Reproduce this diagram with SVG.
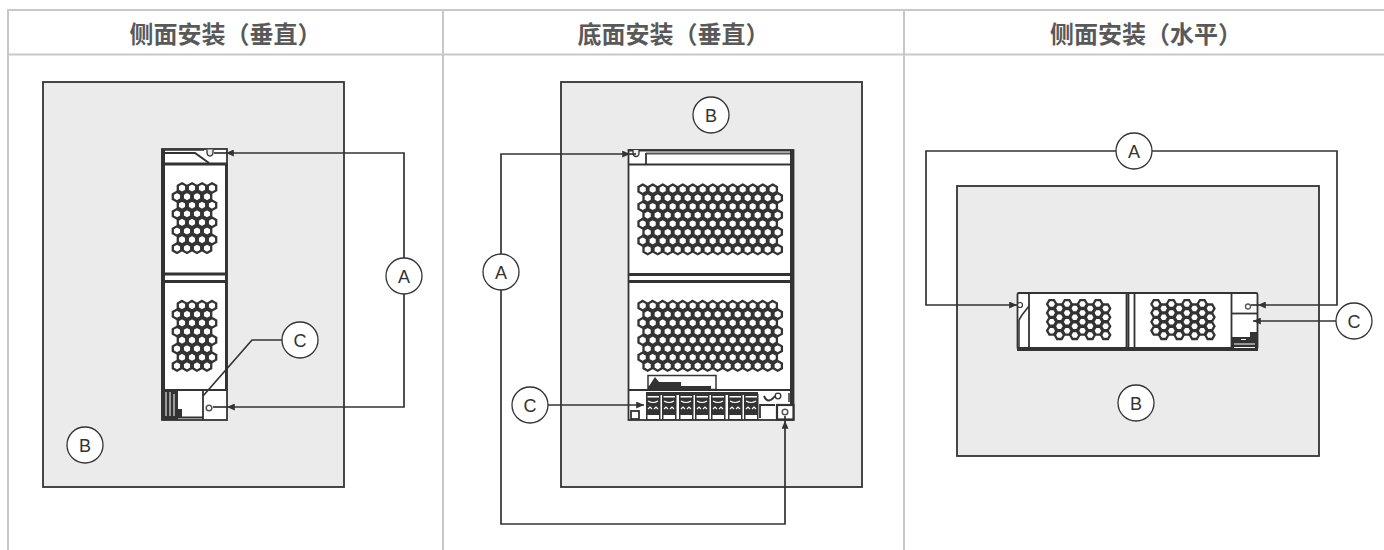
<svg xmlns="http://www.w3.org/2000/svg" width="1384" height="550" viewBox="0 0 1384 550">
<style>
.grid{stroke:#c8c8c8;stroke-width:2;fill:none}
.hd{font-family:"Noto Sans CJK SC","Noto Sans",sans-serif;font-size:24px;font-weight:700;fill:#595959;text-anchor:middle}
.panel{fill:#ebebeb;stroke:#333;stroke-width:1.8}
.wire{fill:none;stroke:#333;stroke-width:1.7}
.lab circle{fill:#fff;stroke:#333;stroke-width:1.3}
.lab text{font-family:"Liberation Sans",Arial,sans-serif;font-size:18px;fill:#333;text-anchor:middle}
.body{fill:#fff;stroke:#333;stroke-width:1.8}
.dk{fill:#333}
.ln{fill:none;stroke:#333;stroke-width:1.5}
.hx{fill:#fff;stroke:#333;stroke-width:2.3}
</style>
<defs>
<marker id="ah" viewBox="0 0 8 7" refX="7.8" refY="3.5" markerWidth="8" markerHeight="7" orient="auto" markerUnits="userSpaceOnUse"><path d="M0 0L8 3.500L0 7Z" fill="#333"/></marker>
<polygon id="h" class="hx" points="0,-4.8 4.2,-2.4 4.2,2.4 0,4.8 -4.2,2.4 -4.2,-2.4"/>
<g id="r4"><use href="#h" x="0"/><use href="#h" x="10"/><use href="#h" x="20"/><use href="#h" x="30"/></g>
<g id="b1"><use href="#r4" x="5" y="0"/><use href="#r4" x="0" y="8.6"/><use href="#r4" x="5" y="17.2"/><use href="#r4" x="0" y="25.8"/><use href="#r4" x="5" y="34.4"/><use href="#r4" x="0" y="43"/><use href="#r4" x="5" y="51.6"/><use href="#r4" x="0" y="60.2"/></g>
<g id="r14"><use href="#r4" x="0"/><use href="#r4" x="40"/><use href="#r4" x="80"/><use href="#h" x="120"/><use href="#h" x="130"/></g>
<g id="b2"><use href="#r14" x="0" y="0"/><use href="#r14" x="5" y="8.6"/><use href="#r14" x="0" y="17.2"/><use href="#r14" x="5" y="25.8"/><use href="#r14" x="0" y="34.4"/><use href="#r14" x="5" y="43"/><use href="#r14" x="0" y="51.6"/><use href="#r14" x="5" y="60.2"/></g>
<polygon id="f" class="hx" points="-4.6,0 -2.3,-3.9 2.3,-3.9 4.6,0 2.3,3.9 -2.3,3.9"/>
<g id="b3">
<use href="#f" x="0" y="0"/><use href="#f" x="0" y="8.9"/><use href="#f" x="0" y="17.8"/><use href="#f" x="0" y="26.7"/>
<use href="#f" x="7.7" y="4.4"/><use href="#f" x="7.7" y="13.3"/><use href="#f" x="7.7" y="22.2"/><use href="#f" x="7.7" y="31.1"/>
<use href="#f" x="15.4" y="0"/><use href="#f" x="15.4" y="8.9"/><use href="#f" x="15.4" y="17.8"/><use href="#f" x="15.4" y="26.7"/>
<use href="#f" x="23.1" y="4.4"/><use href="#f" x="23.1" y="13.3"/><use href="#f" x="23.1" y="22.2"/><use href="#f" x="23.1" y="31.1"/>
<use href="#f" x="30.8" y="0"/><use href="#f" x="30.8" y="8.9"/><use href="#f" x="30.8" y="17.8"/><use href="#f" x="30.8" y="26.7"/>
<use href="#f" x="38.5" y="4.4"/><use href="#f" x="38.5" y="13.3"/><use href="#f" x="38.5" y="22.2"/><use href="#f" x="38.5" y="31.1"/>
<use href="#f" x="46.2" y="0"/><use href="#f" x="46.2" y="8.9"/><use href="#f" x="46.2" y="17.8"/><use href="#f" x="46.2" y="26.7"/>
<use href="#f" x="53.9" y="4.4"/><use href="#f" x="53.9" y="13.3"/><use href="#f" x="53.9" y="22.2"/><use href="#f" x="53.9" y="31.1"/>
</g>
<g id="term"><rect x="0" y="0" width="14.500" height="26" fill="#333"/><rect x="1.500" y="2" width="11.500" height="1.500" fill="#fff"/><path d="M2 7q5 3 10 0M2 15l2-2 2 2M8 15l2-2 2 2" fill="none" stroke="#fff" stroke-width="1.100"/><rect x="1.500" y="21" width="11.500" height="4" fill="#fff"/></g>
</defs>
<g id="table">
<path class="grid" d="M8 550V10H1384M8 54.500H1384M443 10V550M904 10V550"/>
<text class="hd" x="225.500" y="43">侧面安装（垂直）</text>
<text class="hd" x="673.500" y="43">底面安装（垂直）</text>
<text class="hd" x="1146" y="43">侧面安装（水平）</text>
</g>
<g id="panels">
<rect id="panel-1" class="panel" x="43" y="82" width="301" height="405"/>
<rect id="panel-2" class="panel" x="561" y="82" width="301" height="405"/>
<rect id="panel-3" class="panel" x="957" y="186" width="362" height="270"/>
</g>
<g id="device-1">
<rect class="body" x="162" y="149" width="65" height="271"/>
<rect class="dk" x="161" y="149" width="4" height="271"/>
<rect class="dk" x="225" y="164" width="2.500" height="226"/>
<path d="M165 153H195L209 163" fill="none" stroke="#333" stroke-width="2"/>
<path d="M165 150H204" stroke="#333" stroke-width="1.500"/>
<path fill="#ebebeb" stroke="#333" stroke-width="1.300" d="M207 149.500V152Q207 156 210 156Q213 156 213 152V149.500"/>
<path d="M162 164H227" stroke="#333" stroke-width="3"/>
<path d="M162 274H227M162 281.500H227" stroke="#333" stroke-width="3"/>
<path d="M162 390H227" stroke="#333" stroke-width="1.800"/>
<use href="#b1" x="177" y="188"/>
<use href="#b1" x="177" y="305.700"/>
<rect class="dk" x="162" y="390" width="16" height="30"/>
<path d="M166 392V416M170 392V416M174 394V416" stroke="#fff" stroke-width="1"/>
<rect x="178" y="391" width="24" height="24" fill="#fff"/>
<path d="M178 417.500H203M203 390V420" stroke="#333" stroke-width="1.800"/>
<rect x="178" y="409" width="4" height="8" fill="#333"/>
<circle cx="209" cy="408" r="2.800" fill="#fff" stroke="#555" stroke-width="1.500"/>
</g>
<g id="device-2">
<rect class="body" x="628.500" y="150" width="165" height="270"/>
<rect class="dk" x="790" y="150" width="4" height="270"/>
<path d="M628 150.500H793" stroke="#333" stroke-width="1.800"/>
<path d="M646 153.500H790" stroke="#555" stroke-width="2.200"/>
<path d="M646 153V164" stroke="#333" stroke-width="1.800"/>
<path fill="#ebebeb" stroke="#333" stroke-width="1.300" d="M633 150V153Q633 156.500 636 156.500Q639 156.500 639 153V150"/>
<path d="M628 164.500H793" stroke="#333" stroke-width="2.200"/>
<path d="M629 274.500H792M629 281.500H792" stroke="#333" stroke-width="3"/>
<path d="M628 390H793" stroke="#333" stroke-width="1.800"/>
<use href="#b2" x="642.700" y="189.300"/>
<use href="#b2" x="642.700" y="305.700"/>
<rect x="648" y="375.500" width="68" height="14" fill="#fff" stroke="#333" stroke-width="1.500"/>
<path d="M649 389V386L655 377L659 382H681V389Z" fill="#333"/>
<rect x="648" y="386" width="63" height="3.500" fill="#333"/>
<rect x="646" y="392" width="112" height="3" fill="#333"/>
<use href="#term" x="646" y="394"/><use href="#term" x="662" y="394"/><use href="#term" x="679" y="394"/><use href="#term" x="695" y="394"/><use href="#term" x="711" y="394"/><use href="#term" x="728" y="394"/><use href="#term" x="744" y="394"/>
<rect x="631" y="411" width="8" height="8" fill="#fff" stroke="#333" stroke-width="1.800"/>
<path d="M760 418V405H775" stroke="#333" stroke-width="1.800" fill="none"/>
<path d="M764 396Q768 405 775 396" fill="none" stroke="#333" stroke-width="2"/>
<circle cx="778" cy="396" r="2.800" fill="none" stroke="#333" stroke-width="1.300"/>
<rect x="777" y="405" width="16.500" height="14.500" fill="#fff" stroke="#333" stroke-width="2.200"/>
<circle cx="785" cy="412" r="2.800" fill="#fff" stroke="#555" stroke-width="1.500"/>
<path d="M789 393V402" stroke="#333" stroke-width="1.500"/>
</g>
<g id="device-3">
<rect class="body" x="1017.500" y="293" width="240" height="56" rx="1.500"/>
<rect class="dk" x="1017" y="347" width="241" height="4"/>
<path d="M1029 293V349M1126.500 293V349M1128.500 293V349M1134.500 293V349M1231.500 293V349" stroke="#333" stroke-width="1.800"/>
<path d="M1019 320L1022 315L1029 306" fill="none" stroke="#333" stroke-width="1.500"/>
<path d="M1019 320V349" stroke="#333" stroke-width="1.500"/>
<circle cx="1020" cy="305" r="2.500" fill="#fff" stroke="#333" stroke-width="1.200"/>
<use href="#b3" x="1051.700" y="304"/>
<use href="#b3" x="1156" y="304"/>
<circle cx="1248" cy="306.500" r="2.500" fill="#fff" stroke="#555" stroke-width="1.300"/>
<path d="M1232 313.500H1258" stroke="#333" stroke-width="1.800"/>
<path class="dk" d="M1232 337H1250V332H1257.500V350H1232Z"/>
<path d="M1241 339.500H1246M1234 344H1255M1234 347.500H1255" stroke="#fff" stroke-width="1"/>
</g>
<g id="connectors">
<path class="wire" marker-end="url(#ah)" d="M404 258V153H226"/>
<path class="wire" d="M226 153H214"/>
<path class="wire" marker-end="url(#ah)" d="M404 294V407H227"/>
<path class="wire" d="M227 407H213"/>
<path class="wire" d="M282 340H252L203 396"/>
<path class="wire" marker-end="url(#ah)" d="M501 254V154H630"/>
<path class="wire" d="M630 154H636"/>
<path class="wire" marker-end="url(#ah)" d="M501 290V524H785V421"/>
<path class="wire" d="M785 421V416"/>
<path class="wire" marker-end="url(#ah)" d="M548 405H644"/>
<path class="wire" marker-end="url(#ah)" d="M1116 151H926V305H1017"/>
<path class="wire" marker-end="url(#ah)" d="M1152 151H1337V305H1258"/>
<path class="wire" d="M1258 305H1251"/>
<path class="wire" marker-end="url(#ah)" d="M1336 321H1253"/>
</g>
<g id="label-a1" class="lab"><circle cx="404" cy="276" r="18"/><text x="404" y="282.500">A</text></g>
<g id="label-c1" class="lab"><circle cx="300" cy="340" r="18"/><text x="300" y="346.500">C</text></g>
<g id="label-b1" class="lab"><circle cx="85" cy="445" r="18"/><text x="85" y="451.500">B</text></g>
<g id="label-b2" class="lab"><circle cx="711" cy="115" r="18"/><text x="711" y="121.500">B</text></g>
<g id="label-a2" class="lab"><circle cx="501" cy="272" r="18"/><text x="501" y="278.500">A</text></g>
<g id="label-c2" class="lab"><circle cx="530" cy="405" r="18"/><text x="530" y="411.500">C</text></g>
<g id="label-a3" class="lab"><circle cx="1134" cy="151" r="18"/><text x="1134" y="157.500">A</text></g>
<g id="label-c3" class="lab"><circle cx="1354" cy="321" r="18"/><text x="1354" y="327.500">C</text></g>
<g id="label-b3" class="lab"><circle cx="1136" cy="403" r="18"/><text x="1136" y="409.500">B</text></g>
</svg>
